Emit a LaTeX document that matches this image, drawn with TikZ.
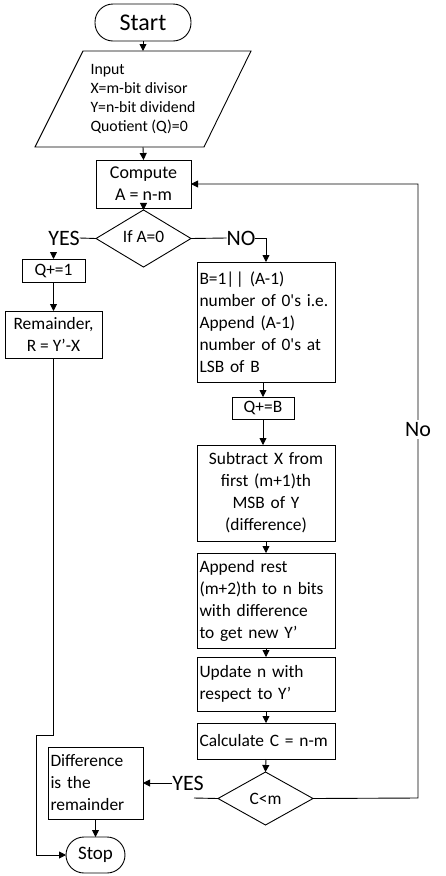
\documentclass[tikz,border=0pt]{standalone}
\usepackage{fontspec}
\setmainfont{Carlito}
\usetikzlibrary{arrows.meta,shapes.geometric,calc}
\begin{document}
\begin{tikzpicture}[x=1pt,y=-1pt,
  every node/.style={inner sep=0pt, outer sep=0pt},
  ln/.style={line width=0.9pt},
  arr/.style={ln,-{Triangle[length=7pt,width=7pt]}},
  fnt/.style={font=\fontsize{17.4}{22}\selectfont},
  box/.style={draw, ln, fnt, inner xsep=2.5pt, align=center},
  lbox/.style={draw, ln, fnt, inner xsep=2.5pt, align=left},
  term/.style={draw, ln, rounded corners=18pt, align=center},
  dec/.style={draw, ln, diamond, fnt, inner sep=0pt},
  yn/.style={font=\fontsize{22}{24}\selectfont}
]
\useasboundingbox (0,0) rectangle (445,876);

\node[term, minimum width=96pt, minimum height=37pt, font=\fontsize{24}{26}\selectfont] (start) at (143,22.5) {Start};

\node[minimum width=216pt, minimum height=96pt, align=left, font=\fontsize{15.8}{19.2}\selectfont] (in) at (143,99) {Input\\X=m-bit divisor\\Y=n-bit dividend\\Quotient (Q)=0};
\draw[ln] (in.south west) -- ($(in.south east)+(-47,0)$) -- (in.north east) -- ($(in.north west)+(48,0)$) -- cycle;

\node[box, minimum width=95pt, minimum height=48pt, font=\fontsize{18}{22}\selectfont] (comp) at (143.5,184) {Compute\\A = n-m};

\node[dec, minimum width=95pt, minimum height=47pt] (ifa) at (143.5,238.5) {\raisebox{4pt}{If A=0}};

\node[yn] (yes1) at (64,238) {YES};
\node[yn] (no1) at (241,238) {NO};

\node[box, minimum width=63pt, minimum height=23pt] (q1) at (53.5,270.5) {Q+=1};
\node[box, minimum width=97pt, minimum height=47pt] (rem) at (53.5,334.5) {Remainder,\\R = Y’-X};

\node[lbox, text width=133pt, minimum height=120pt] (bb) at (266,322) {B=1|\kern1.5pt| (A-1)\\number of 0\textquotesingle s i.e.\\Append (A-1)\\number of 0\textquotesingle s at\\LSB of B};
\node[box, minimum width=62pt, minimum height=22pt] (qb) at (263,408) {Q+=B};
\node[box, text width=133pt, minimum height=96pt] (sub) at (266,493) {Subtract X from\\first (m+1)th\\MSB of Y\\(difference)};
\node[lbox, text width=133pt, minimum height=95pt] (app) at (266,600.5) {Append rest\\(m+2)th to n bits\\with difference\\to get new Y’};
\node[lbox, text width=133pt, minimum height=54pt] (upd) at (266,684) {Update n with\\respect to Y’};
\node[lbox, text width=133pt, minimum height=36pt] (calc) at (266,741) {Calculate C = n-m};
\node[dec, minimum width=95pt, minimum height=53pt] (cm) at (265.5,798.5) {C<m};

\node[lbox, text width=90pt, minimum height=72pt] (diff) at (95.5,783) {Difference\\is the\\remainder};
\node[yn] (yes2) at (188,783) {YES};
\node[term, minimum width=59pt, minimum height=36pt, font=\fontsize{19}{22}\selectfont] (stop) at (95.5,855) {Stop};

\coordinate (jog) at (36,735);
\coordinate (lp) at (418,798);
\coordinate (lx) at (194,798);

\draw[arr] (start.south) -- (in.north);
\draw[arr] (in.south) -- (comp.north);
\draw[arr] (comp.south) -- (ifa.north);
\draw[ln] (ifa.west) -- (yes1.east);
\draw[arr] (q1.north |- 0,252) -- (q1.north);
\draw[ln] (ifa.east) -- (no1.west);
\draw[arr] (no1.east) -| (bb.north);
\draw[arr] (q1.south) -- (rem.north);
\draw[arr] (rem.south) -- (rem.south |- jog) -- (jog) |- (stop.west);
\draw[arr] (bb.south -| qb.north) -- (qb.north);
\draw[arr] (qb.south) -- (qb.south |- sub.north);
\draw[arr] (sub.south) -- (app.north);
\draw[arr] (app.south) -- (upd.north);
\draw[arr] (upd.south) -- (calc.north);
\draw[arr] (calc.south) -- (cm.north);
\draw[arr] (cm.east) -- (lp) -- node[pos=0.6, fill=white, yn, inner sep=2pt] {No} (lp |- comp.east) -- (comp.east);
\draw[ln] (cm.west) -- (lx);
\draw[arr] (yes2.west) -- (diff.east);
\draw[arr] (diff.south) -- (stop.north);
\end{tikzpicture}
\end{document}
